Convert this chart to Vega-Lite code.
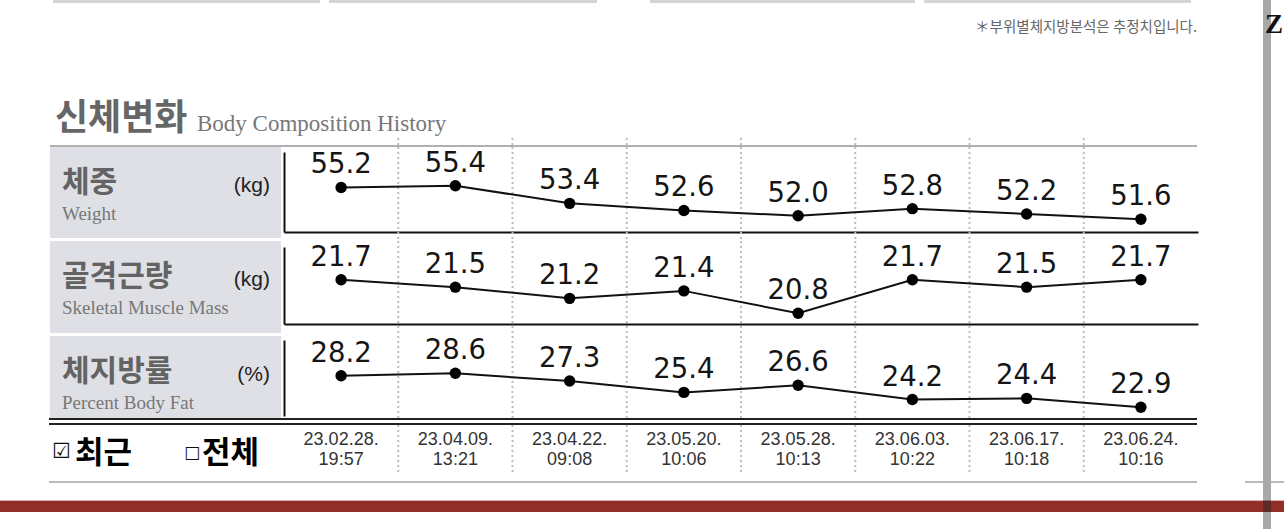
{
  "$schema": "https://vega.github.io/schema/vega-lite/v6.json",
  "padding": 0,
  "background": "#ffffff",
  "spacing": 0,
  "config": {"view": {"stroke": null}, "concat": {"spacing": 0}, "font": "Liberation Sans"},
  "datasets": {
    "history": [
      {"date": "23.02.28.", "time": "19:57", "weight": 55.2, "muscle": 21.7, "fat": 28.2},
      {"date": "23.04.09.", "time": "13:21", "weight": 55.4, "muscle": 21.5, "fat": 28.6},
      {"date": "23.04.22.", "time": "09:08", "weight": 53.4, "muscle": 21.2, "fat": 27.3},
      {"date": "23.05.20.", "time": "10:06", "weight": 52.6, "muscle": 21.4, "fat": 25.4},
      {"date": "23.05.28.", "time": "10:13", "weight": 52.0, "muscle": 20.8, "fat": 26.6},
      {"date": "23.06.03.", "time": "10:22", "weight": 52.8, "muscle": 21.7, "fat": 24.2},
      {"date": "23.06.17.", "time": "10:18", "weight": 52.2, "muscle": 21.5, "fat": 24.4},
      {"date": "23.06.24.", "time": "10:16", "weight": 51.6, "muscle": 21.7, "fat": 22.9}
    ],
    "metrics": [
      {"key": "weight", "ko": "체중", "unit": "(kg)", "en": "Weight"},
      {"key": "muscle", "ko": "골격근량", "unit": "(kg)", "en": "Skeletal Muscle Mass"},
      {"key": "fat", "ko": "체지방률", "unit": "(%)", "en": "Percent Body Fat"}
    ],
    "page": [
      {"note": "＊부위별체지방분석은 추정치입니다.", "title": "신체변화", "subtitle": "Body Composition History", "checked": "☑", "recent": "최근", "unchecked": "□", "all": "전체", "edge": "Z"}
    ]
  },
  "vconcat": [
    {"hconcat": [
      {"width": 53, "height": 3, "data": {"values": []}, "mark": "rect"},
      {"width": 267, "height": 3, "view": {"fill": "#d5d5d5", "stroke": null}, "data": {"values": []}, "mark": "rect"},
      {"width": 9, "height": 3, "data": {"values": []}, "mark": "rect"},
      {"width": 268, "height": 3, "view": {"fill": "#d5d5d5", "stroke": null}, "data": {"values": []}, "mark": "rect"},
      {"width": 53, "height": 3, "data": {"values": []}, "mark": "rect"},
      {"width": 265, "height": 3, "view": {"fill": "#d5d5d5", "stroke": null}, "data": {"values": []}, "mark": "rect"},
      {"width": 9, "height": 3, "data": {"values": []}, "mark": "rect"},
      {"width": 267, "height": 3, "view": {"fill": "#d5d5d5", "stroke": null}, "data": {"values": []}, "mark": "rect"},
      {"width": 72, "height": 3, "data": {"values": []}, "mark": "rect"},
      {"width": 8, "height": 3, "view": {"fill": "#a8a8a8", "stroke": null}, "data": {"values": []}, "mark": "rect"},
      {"width": 13, "height": 3, "data": {"values": []}, "mark": "rect"}
    ], "spacing": 0, "bounds": "flush"},
    {"hconcat": [
      {"width": 1263, "height": 135, "data": {"name": "page"},
       "layer": [
        {"mark": {"type": "text", "align": "right", "baseline": "alphabetic", "dx": 565.5, "dy": -38.5, "font": "Noto Sans CJK KR", "fontSize": 14.5, "fill": "#666666"},
         "encoding": {"text": {"field": "note", "type": "nominal"}}},
        {"mark": {"type": "text", "align": "left", "baseline": "alphabetic", "dx": -576.5, "dy": 59, "font": "Noto Sans CJK KR", "fontSize": 36, "fontWeight": "bold", "fill": "#666666"},
         "encoding": {"text": {"field": "title", "type": "nominal"}}},
        {"mark": {"type": "text", "align": "left", "baseline": "alphabetic", "dx": -434.5, "dy": 60.5, "font": "Liberation Serif", "fontSize": 23, "fill": "#777777"},
         "encoding": {"text": {"field": "subtitle", "type": "nominal"}}}
       ]},
      {"width": 8, "height": 135, "view": {"fill": "#a8a8a8", "stroke": null}, "data": {"values": []}, "mark": "rect"},
      {"width": 13, "height": 135, "data": {"name": "page"},
       "mark": {"type": "text", "align": "right", "baseline": "alphabetic", "dx": 5.5, "dy": -37.5, "font": "Liberation Serif", "fontSize": 27, "fontWeight": "bold", "fill": "#111111"},
       "encoding": {"text": {"field": "edge", "type": "nominal"}}}
    ], "spacing": 0, "bounds": "flush"},
    {"hconcat": [
      {"width": 284, "height": 7, "data": {"values": []}, "mark": "rect"},
      {"width": 914, "height": 7, "data": {"name": "history"},
       "transform": [{"filter": "datum.date !== '23.02.28.'"}],
       "mark": {"type": "rule", "stroke": "#bdbdbd", "strokeWidth": 2, "strokeDash": [2, 3], "clip": true},
       "encoding": {"x": {"field": "date", "type": "ordinal", "bandPosition": 0, "scale": {"type": "band", "domain": ["23.02.28.", "23.04.09.", "23.04.22.", "23.05.20.", "23.05.28.", "23.06.03.", "23.06.17.", "23.06.24."], "paddingInner": 0, "paddingOuter": 0}, "axis": null}}},
      {"width": 65, "height": 7, "data": {"values": []}, "mark": "rect"},
      {"width": 8, "height": 7, "view": {"fill": "#a8a8a8", "stroke": null}, "data": {"values": []}, "mark": "rect"},
      {"width": 13, "height": 7, "data": {"values": []}, "mark": "rect"}
    ], "spacing": 0, "bounds": "flush"},
    {"hconcat": [
      {"width": 50, "height": 2, "data": {"values": []}, "mark": "rect"},
      {"width": 1147, "height": 2, "view": {"fill": "#b0b0b0", "stroke": null}, "data": {"values": []}, "mark": "rect"},
      {"width": 66, "height": 2, "data": {"values": []}, "mark": "rect"},
      {"width": 8, "height": 2, "view": {"fill": "#a8a8a8", "stroke": null}, "data": {"values": []}, "mark": "rect"},
      {"width": 13, "height": 2, "data": {"values": []}, "mark": "rect"}
    ], "spacing": 0, "bounds": "flush"},
    {"hconcat": [
      {"width": 50, "height": 94, "data": {"values": []}, "mark": "rect"},
      {"width": 231, "height": 91, "view": {"fill": "#dfe0e5", "stroke": null},
       "data": {"name": "metrics"}, "transform": [{"filter": "datum.key === 'weight'"}],
       "layer": [
        {"mark": {"type": "text", "align": "left", "baseline": "alphabetic", "dx": -103.5, "dy": -1, "font": "Noto Sans CJK KR", "fontSize": 30, "fontWeight": "bold", "fill": "#636363"}, "encoding": {"text": {"field": "ko", "type": "nominal"}}},
        {"mark": {"type": "text", "align": "right", "baseline": "alphabetic", "dx": 104.5, "dy": -0.5, "font": "Liberation Sans", "fontSize": 21, "fill": "#222222"}, "encoding": {"text": {"field": "unit", "type": "nominal"}}},
        {"mark": {"type": "text", "align": "left", "baseline": "alphabetic", "dx": -103.5, "dy": 27.5, "font": "Liberation Serif", "fontSize": 19, "fill": "#777777"}, "encoding": {"text": {"field": "en", "type": "nominal"}}}
       ]},
      {"width": 3, "height": 94, "data": {"values": []}, "mark": "rect"},
      {"width": 914, "height": 94, "data": {"name": "history"},
       "layer": [
        {"transform": [{"filter": "datum.date !== '23.02.28.'"}],
         "mark": {"type": "rule", "stroke": "#bdbdbd", "strokeWidth": 2, "strokeDash": [2, 3], "clip": true},
         "encoding": {"x": {"field": "date", "type": "ordinal", "bandPosition": 0, "scale": {"type": "band", "domain": ["23.02.28.", "23.04.09.", "23.04.22.", "23.05.20.", "23.05.28.", "23.06.03.", "23.06.17.", "23.06.24."], "paddingInner": 0, "paddingOuter": 0}, "axis": {"orient": "bottom", "offset": -9, "domain": true, "domainColor": "#111111", "domainWidth": 2, "ticks": false, "labels": false, "grid": false, "title": null}}}},
        {"encoding": {
           "x": {"field": "date", "type": "ordinal", "bandPosition": 0.5, "scale": {"type": "band", "domain": ["23.02.28.", "23.04.09.", "23.04.22.", "23.05.20.", "23.05.28.", "23.06.03.", "23.06.17.", "23.06.24."], "paddingInner": 0, "paddingOuter": 0}, "axis": {"orient": "bottom", "offset": -9, "domain": true, "domainColor": "#111111", "domainWidth": 2, "ticks": false, "labels": false, "grid": false, "title": null}},
           "y": {"field": "weight", "type": "quantitative", "scale": {"domain": [50.16, 59.21], "range": [85, 5], "zero": false, "nice": false}, "axis": {"orient": "left", "domain": true, "domainColor": "#111111", "domainWidth": 2, "ticks": false, "labels": false, "grid": false, "title": null}}},
         "layer": [
          {"mark": {"type": "line", "color": "#111111", "strokeWidth": 2}},
          {"mark": {"type": "point", "shape": "circle", "filled": true, "color": "#000000", "size": 130, "opacity": 1}},
          {"mark": {"type": "text", "font": "DejaVu Sans", "fontSize": 27.5, "color": "#151515", "baseline": "alphabetic", "dy": -14},
           "encoding": {"text": {"field": "weight", "type": "quantitative", "format": ".1f"}}}
         ]}
       ]},
      {"width": 65, "height": 94, "data": {"values": []}, "mark": "rect"},
      {"width": 8, "height": 94, "view": {"fill": "#a8a8a8", "stroke": null}, "data": {"values": []}, "mark": "rect"},
      {"width": 13, "height": 94, "data": {"values": []}, "mark": "rect"}
    ], "spacing": 0, "bounds": "flush"},
    {"hconcat": [
      {"width": 50, "height": 95, "data": {"values": []}, "mark": "rect"},
      {"width": 231, "height": 92, "view": {"fill": "#dfe0e5", "stroke": null},
       "data": {"name": "metrics"}, "transform": [{"filter": "datum.key === 'muscle'"}],
       "layer": [
        {"mark": {"type": "text", "align": "left", "baseline": "alphabetic", "dx": -103.5, "dy": -1.5, "font": "Noto Sans CJK KR", "fontSize": 30, "fontWeight": "bold", "fill": "#636363"}, "encoding": {"text": {"field": "ko", "type": "nominal"}}},
        {"mark": {"type": "text", "align": "right", "baseline": "alphabetic", "dx": 104.5, "dy": -1, "font": "Liberation Sans", "fontSize": 21, "fill": "#222222"}, "encoding": {"text": {"field": "unit", "type": "nominal"}}},
        {"mark": {"type": "text", "align": "left", "baseline": "alphabetic", "dx": -103.5, "dy": 27, "font": "Liberation Serif", "fontSize": 19, "fill": "#777777"}, "encoding": {"text": {"field": "en", "type": "nominal"}}}
       ]},
      {"width": 3, "height": 95, "data": {"values": []}, "mark": "rect"},
      {"width": 914, "height": 95, "data": {"name": "history"},
       "layer": [
        {"transform": [{"filter": "datum.date !== '23.02.28.'"}],
         "mark": {"type": "rule", "stroke": "#bdbdbd", "strokeWidth": 2, "strokeDash": [2, 3], "clip": true},
         "encoding": {"x": {"field": "date", "type": "ordinal", "bandPosition": 0, "scale": {"type": "band", "domain": ["23.02.28.", "23.04.09.", "23.04.22.", "23.05.20.", "23.05.28.", "23.06.03.", "23.06.17.", "23.06.24."], "paddingInner": 0, "paddingOuter": 0}, "axis": {"orient": "bottom", "offset": -12, "domain": true, "domainColor": "#111111", "domainWidth": 2, "ticks": false, "labels": false, "grid": false, "title": null}}}},
        {"encoding": {
           "x": {"field": "date", "type": "ordinal", "bandPosition": 0.5, "scale": {"type": "band", "domain": ["23.02.28.", "23.04.09.", "23.04.22.", "23.05.20.", "23.05.28.", "23.06.03.", "23.06.17.", "23.06.24."], "paddingInner": 0, "paddingOuter": 0}, "axis": {"orient": "bottom", "offset": -12, "domain": true, "domainColor": "#111111", "domainWidth": 2, "ticks": false, "labels": false, "grid": false, "title": null}},
           "y": {"field": "muscle", "type": "quantitative", "scale": {"domain": [20.512, 22.577], "range": [83, 6], "zero": false, "nice": false}, "axis": {"orient": "left", "domain": true, "domainColor": "#111111", "domainWidth": 2, "ticks": false, "labels": false, "grid": false, "title": null}}},
         "layer": [
          {"mark": {"type": "line", "color": "#111111", "strokeWidth": 2}},
          {"mark": {"type": "point", "shape": "circle", "filled": true, "color": "#000000", "size": 130, "opacity": 1}},
          {"mark": {"type": "text", "font": "DejaVu Sans", "fontSize": 27.5, "color": "#151515", "baseline": "alphabetic", "dy": -14},
           "encoding": {"text": {"field": "muscle", "type": "quantitative", "format": ".1f"}}}
         ]}
       ]},
      {"width": 65, "height": 95, "data": {"values": []}, "mark": "rect"},
      {"width": 8, "height": 95, "view": {"fill": "#a8a8a8", "stroke": null}, "data": {"values": []}, "mark": "rect"},
      {"width": 13, "height": 95, "data": {"values": []}, "mark": "rect"}
    ], "spacing": 0, "bounds": "flush"},
    {"hconcat": [
      {"width": 50, "height": 82, "data": {"values": []}, "mark": "rect"},
      {"width": 231, "height": 82, "view": {"fill": "#dfe0e5", "stroke": null},
       "data": {"name": "metrics"}, "transform": [{"filter": "datum.key === 'fat'"}],
       "layer": [
        {"mark": {"type": "text", "align": "left", "baseline": "alphabetic", "dx": -103.5, "dy": 3.5, "font": "Noto Sans CJK KR", "fontSize": 30, "fontWeight": "bold", "fill": "#636363"}, "encoding": {"text": {"field": "ko", "type": "nominal"}}},
        {"mark": {"type": "text", "align": "right", "baseline": "alphabetic", "dx": 104.5, "dy": 4, "font": "Liberation Sans", "fontSize": 21, "fill": "#222222"}, "encoding": {"text": {"field": "unit", "type": "nominal"}}},
        {"mark": {"type": "text", "align": "left", "baseline": "alphabetic", "dx": -103.5, "dy": 32, "font": "Liberation Serif", "fontSize": 19, "fill": "#777777"}, "encoding": {"text": {"field": "en", "type": "nominal"}}}
       ]},
      {"width": 3, "height": 82, "data": {"values": []}, "mark": "rect"},
      {"width": 914, "height": 82, "data": {"name": "history"},
       "layer": [
        {"transform": [{"filter": "datum.date !== '23.02.28.'"}],
         "mark": {"type": "rule", "stroke": "#bdbdbd", "strokeWidth": 2, "strokeDash": [2, 3], "clip": true},
         "encoding": {"x": {"field": "date", "type": "ordinal", "bandPosition": 0, "scale": {"type": "band", "domain": ["23.02.28.", "23.04.09.", "23.04.22.", "23.05.20.", "23.05.28.", "23.06.03.", "23.06.17.", "23.06.24."], "paddingInner": 0, "paddingOuter": 0}, "axis": null}}},
        {"encoding": {
           "x": {"field": "date", "type": "ordinal", "bandPosition": 0.5, "scale": {"type": "band", "domain": ["23.02.28.", "23.04.09.", "23.04.22.", "23.05.20.", "23.05.28.", "23.06.03.", "23.06.17.", "23.06.24."], "paddingInner": 0, "paddingOuter": 0}, "axis": null},
           "y": {"field": "fat", "type": "quantitative", "scale": {"domain": [21.44, 34.19], "range": [80, 4], "zero": false, "nice": false}, "axis": {"orient": "left", "domain": true, "domainColor": "#111111", "domainWidth": 2, "ticks": false, "labels": false, "grid": false, "title": null}}},
         "layer": [
          {"mark": {"type": "line", "color": "#111111", "strokeWidth": 2}},
          {"mark": {"type": "point", "shape": "circle", "filled": true, "color": "#000000", "size": 130, "opacity": 1}},
          {"mark": {"type": "text", "font": "DejaVu Sans", "fontSize": 27.5, "color": "#151515", "baseline": "alphabetic", "dy": -14},
           "encoding": {"text": {"field": "fat", "type": "quantitative", "format": ".1f"}}}
         ]}
       ]},
      {"width": 65, "height": 82, "data": {"values": []}, "mark": "rect"},
      {"width": 8, "height": 82, "view": {"fill": "#a8a8a8", "stroke": null}, "data": {"values": []}, "mark": "rect"},
      {"width": 13, "height": 82, "data": {"values": []}, "mark": "rect"}
    ], "spacing": 0, "bounds": "flush"},
    {"hconcat": [
      {"width": 49, "height": 2, "data": {"values": []}, "mark": "rect"},
      {"width": 1148, "height": 2, "view": {"fill": "#222222", "stroke": null}, "data": {"values": []}, "mark": "rect"},
      {"width": 66, "height": 2, "data": {"values": []}, "mark": "rect"},
      {"width": 8, "height": 2, "view": {"fill": "#a8a8a8", "stroke": null}, "data": {"values": []}, "mark": "rect"},
      {"width": 13, "height": 2, "data": {"values": []}, "mark": "rect"}
    ], "spacing": 0, "bounds": "flush"},
    {"hconcat": [
      {"width": 1263, "height": 3, "data": {"values": []}, "mark": "rect"},
      {"width": 8, "height": 3, "view": {"fill": "#a8a8a8", "stroke": null}, "data": {"values": []}, "mark": "rect"},
      {"width": 13, "height": 3, "data": {"values": []}, "mark": "rect"}
    ], "spacing": 0, "bounds": "flush"},
    {"hconcat": [
      {"width": 49, "height": 2, "data": {"values": []}, "mark": "rect"},
      {"width": 1148, "height": 2, "view": {"fill": "#222222", "stroke": null}, "data": {"values": []}, "mark": "rect"},
      {"width": 66, "height": 2, "data": {"values": []}, "mark": "rect"},
      {"width": 8, "height": 2, "view": {"fill": "#a8a8a8", "stroke": null}, "data": {"values": []}, "mark": "rect"},
      {"width": 13, "height": 2, "data": {"values": []}, "mark": "rect"}
    ], "spacing": 0, "bounds": "flush"},
    {"hconcat": [
      {"width": 50, "height": 50, "data": {"values": []}, "mark": "rect"},
      {"width": 234, "height": 50, "data": {"name": "page"},
       "layer": [
        {"mark": {"type": "text", "align": "left", "baseline": "alphabetic", "dx": -115, "dy": 8, "font": "DejaVu Sans", "fontSize": 21, "fill": "#111111"}, "encoding": {"text": {"field": "checked", "type": "nominal"}}},
        {"mark": {"type": "text", "align": "left", "baseline": "alphabetic", "dx": -92, "dy": 13, "font": "Noto Sans CJK KR", "fontSize": 31, "fontWeight": "bold", "fill": "#000000"}, "encoding": {"text": {"field": "recent", "type": "nominal"}}},
        {"mark": {"type": "text", "align": "left", "baseline": "alphabetic", "dx": 17, "dy": 8, "font": "DejaVu Sans", "fontSize": 17, "fill": "#111111"}, "encoding": {"text": {"field": "unchecked", "type": "nominal"}}},
        {"mark": {"type": "text", "align": "left", "baseline": "alphabetic", "dx": 35, "dy": 13, "font": "Noto Sans CJK KR", "fontSize": 31, "fontWeight": "bold", "fill": "#000000"}, "encoding": {"text": {"field": "all", "type": "nominal"}}}
       ]},
      {"width": 914, "height": 50, "data": {"name": "history"},
       "layer": [
        {"transform": [{"filter": "datum.date !== '23.02.28.'"}],
         "mark": {"type": "rule", "stroke": "#bdbdbd", "strokeWidth": 2, "strokeDash": [2, 3], "clip": true},
         "encoding": {"x": {"field": "date", "type": "ordinal", "bandPosition": 0, "scale": {"type": "band", "domain": ["23.02.28.", "23.04.09.", "23.04.22.", "23.05.20.", "23.05.28.", "23.06.03.", "23.06.17.", "23.06.24."], "paddingInner": 0, "paddingOuter": 0}, "axis": null}}},
        {"mark": {"type": "text", "font": "Liberation Sans", "fontSize": 18, "fill": "#333333", "baseline": "alphabetic", "dy": -5},
         "encoding": {"x": {"field": "date", "type": "ordinal", "bandPosition": 0.5, "scale": {"type": "band", "domain": ["23.02.28.", "23.04.09.", "23.04.22.", "23.05.20.", "23.05.28.", "23.06.03.", "23.06.17.", "23.06.24."], "paddingInner": 0, "paddingOuter": 0}, "axis": null}, "text": {"field": "date", "type": "nominal"}}},
        {"mark": {"type": "text", "font": "Liberation Sans", "fontSize": 18, "fill": "#333333", "baseline": "alphabetic", "dy": 15},
         "encoding": {"x": {"field": "date", "type": "ordinal", "bandPosition": 0.5, "scale": {"type": "band", "domain": ["23.02.28.", "23.04.09.", "23.04.22.", "23.05.20.", "23.05.28.", "23.06.03.", "23.06.17.", "23.06.24."], "paddingInner": 0, "paddingOuter": 0}, "axis": null}, "text": {"field": "time", "type": "nominal"}}}
       ]},
      {"width": 65, "height": 50, "data": {"values": []}, "mark": "rect"},
      {"width": 8, "height": 50, "view": {"fill": "#a8a8a8", "stroke": null}, "data": {"values": []}, "mark": "rect"},
      {"width": 13, "height": 50, "data": {"values": []}, "mark": "rect"}
    ], "spacing": 0, "bounds": "flush"},
    {"hconcat": [
      {"width": 1263, "height": 6, "data": {"values": []}, "mark": "rect"},
      {"width": 8, "height": 6, "view": {"fill": "#a8a8a8", "stroke": null}, "data": {"values": []}, "mark": "rect"},
      {"width": 13, "height": 6, "data": {"values": []}, "mark": "rect"}
    ], "spacing": 0, "bounds": "flush"},
    {"hconcat": [
      {"width": 49, "height": 2, "data": {"values": []}, "mark": "rect"},
      {"width": 1148, "height": 2, "view": {"fill": "#bababa", "stroke": null}, "data": {"values": []}, "mark": "rect"},
      {"width": 48, "height": 2, "data": {"values": []}, "mark": "rect"},
      {"width": 18, "height": 2, "view": {"fill": "#bababa", "stroke": null}, "data": {"values": []}, "mark": "rect"},
      {"width": 8, "height": 2, "view": {"fill": "#a8a8a8", "stroke": null}, "data": {"values": []}, "mark": "rect"},
      {"width": 13, "height": 2, "view": {"fill": "#bababa", "stroke": null}, "data": {"values": []}, "mark": "rect"}
    ], "spacing": 0, "bounds": "flush"},
    {"hconcat": [
      {"width": 1263, "height": 17, "data": {"values": []}, "mark": "rect"},
      {"width": 8, "height": 17, "view": {"fill": "#a8a8a8", "stroke": null}, "data": {"values": []}, "mark": "rect"},
      {"width": 13, "height": 17, "data": {"values": []}, "mark": "rect"}
    ], "spacing": 0, "bounds": "flush"},
    {"hconcat": [
      {"width": 1263, "height": 1, "view": {"fill": "#dcb4ad", "stroke": null}, "data": {"values": []}, "mark": "rect"},
      {"width": 8, "height": 1, "view": {"fill": "#8c6e6a", "stroke": null}, "data": {"values": []}, "mark": "rect"},
      {"width": 13, "height": 1, "view": {"fill": "#dcb4ad", "stroke": null}, "data": {"values": []}, "mark": "rect"}
    ], "spacing": 0, "bounds": "flush"},
    {"hconcat": [
      {"width": 1263, "height": 11, "view": {"fill": "#922e28", "stroke": null}, "data": {"values": []}, "mark": "rect"},
      {"width": 8, "height": 11, "view": {"fill": "#5f2a26", "stroke": null}, "data": {"values": []}, "mark": "rect"},
      {"width": 13, "height": 11, "view": {"fill": "#922e28", "stroke": null}, "data": {"values": []}, "mark": "rect"}
    ], "spacing": 0, "bounds": "flush"},
    {"hconcat": [
      {"width": 1263, "height": 17, "data": {"values": []}, "mark": "rect"},
      {"width": 8, "height": 17, "view": {"fill": "#a8a8a8", "stroke": null}, "data": {"values": []}, "mark": "rect"},
      {"width": 13, "height": 17, "data": {"values": []}, "mark": "rect"}
    ], "spacing": 0, "bounds": "flush"}
  ]
}
